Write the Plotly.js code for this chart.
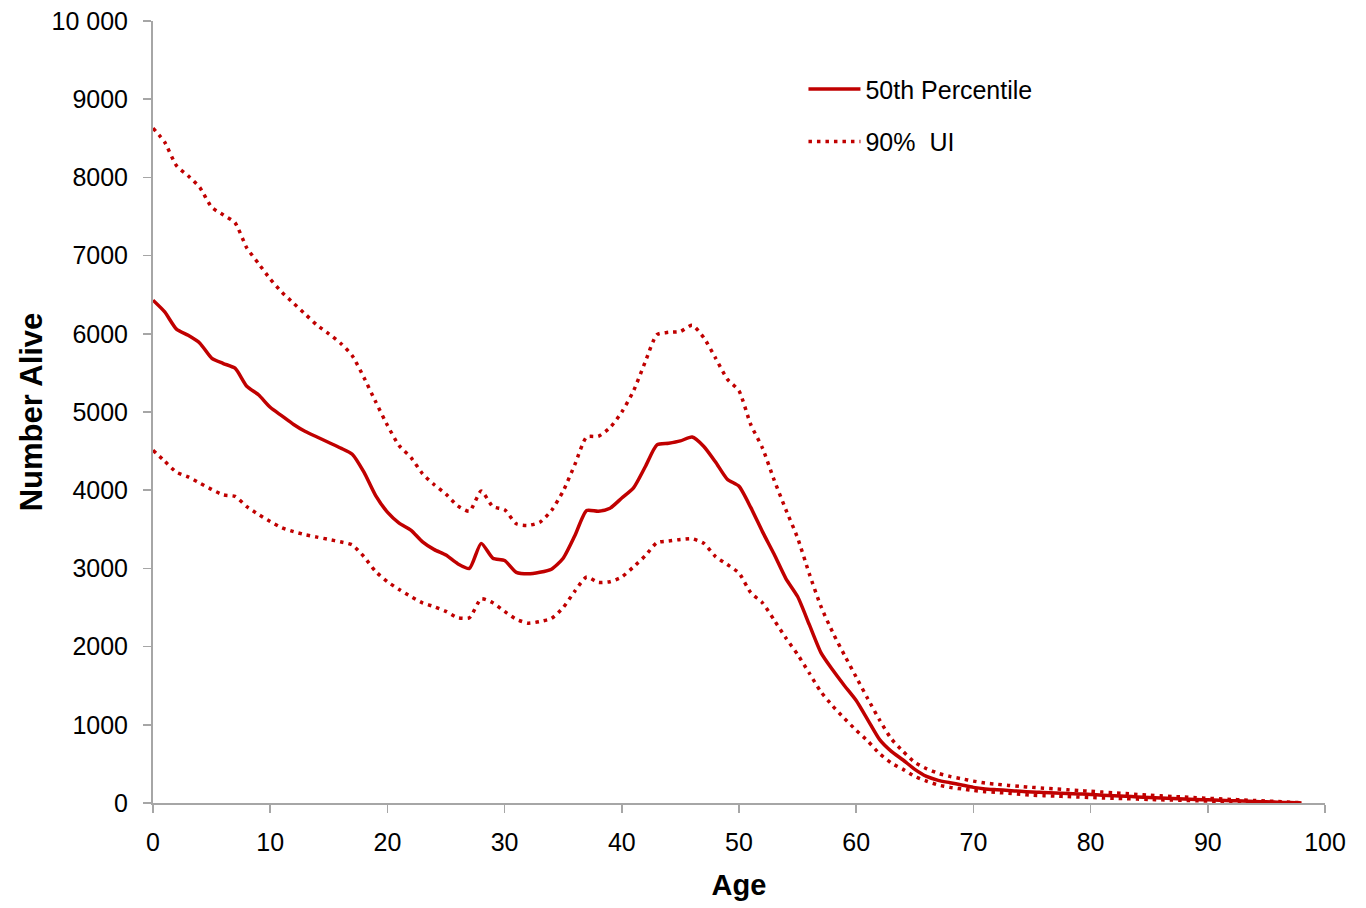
<!DOCTYPE html>
<html>
<head>
<meta charset="utf-8">
<script src="https://cdn.plot.ly/plotly-3.0.1.min.js"></script>
<style>html,body{margin:0;padding:0;background:#fff;}#chart{width:1366px;height:908px;}</style>
</head>
<body>
<div id="chart"></div>
<script>
const ages = Array.from({length: 99}, (_, i) => i);
const median = [6430,6280,6060,5980,5880,5690,5620,5560,5330,5220,
5060,4950,4840,4750,4680,4610,4540,4460,4230,3930,
3720,3580,3490,3340,3240,3170,3060,3000,3320,3130,
3100,2950,2930,2950,2990,3130,3420,3740,3730,3770,
3900,4030,4300,4580,4600,4630,4680,4560,4360,4140,
4050,3780,3470,3180,2870,2640,2280,1920,1700,1500,
1310,1060,810,660,550,430,340,290,260,230,
200,180,170,160,150,140,135,128,120,115,
110,100,92,85,78,70,64,58,52,46,
40,35,30,25,20,15,10,5,1];
const upper = [8630,8450,8150,8020,7870,7620,7520,7420,7100,6900,
6700,6530,6390,6250,6110,6000,5880,5720,5440,5130,
4830,4570,4420,4210,4070,3950,3800,3730,3990,3790,
3750,3570,3550,3590,3740,3990,4330,4680,4690,4800,
5000,5270,5640,5990,6020,6030,6110,5950,5690,5420,
5270,4840,4540,4130,3750,3390,2930,2510,2180,1890,
1610,1330,1060,820,660,520,440,380,340,310,
280,255,240,225,212,200,190,180,170,160,
150,140,130,120,110,100,92,84,76,68,
60,53,46,39,32,25,18,10,5];
const lower = [4510,4370,4230,4170,4090,4010,3940,3920,3790,3690,
3600,3520,3470,3430,3400,3370,3340,3300,3150,2960,
2830,2730,2640,2560,2510,2450,2370,2370,2610,2560,
2450,2350,2300,2320,2360,2500,2710,2890,2820,2830,
2890,3020,3160,3330,3350,3370,3380,3320,3150,3050,
2940,2690,2560,2340,2110,1900,1660,1420,1240,1080,
930,790,630,510,430,340,280,230,200,180,
160,145,135,125,112,100,94,88,82,76,
70,65,60,55,50,45,41,37,33,29,
25,22,18,15,12,8,5,2,0];
const yTickVals = [0,1000,2000,3000,4000,5000,6000,7000,8000,9000,10000];
const yTickText = ['0','1000','2000','3000','4000','5000','6000','7000','8000','9000','10 000'];
const xTickVals = [0,10,20,30,40,50,60,70,80,90,100];

const red = '#c00000';
const traces = [
  {x: ages, y: median, type: 'scatter', mode: 'lines', name: '50th Percentile',
   legendgroup: 'a', line: {color: red, width: 3.5, shape: 'spline', smoothing: 0.6}},
  {x: ages, y: upper, type: 'scatter', mode: 'lines', name: '90%  UI',
   legendgroup: 'b', line: {color: red, width: 3.5, dash: '3.5px,5px', shape: 'spline', smoothing: 0.6}},
  {x: ages, y: lower, type: 'scatter', mode: 'lines', name: '90%  UI', showlegend: false,
   legendgroup: 'b', line: {color: red, width: 3.5, dash: '3.5px,5px', shape: 'spline', smoothing: 0.6}}
];
const fam = 'Liberation Sans, Arial, sans-serif';
const layout = {
  width: 1366, height: 908,
  margin: {l: 153, r: 41, t: 21, b: 105},
  paper_bgcolor: '#fff', plot_bgcolor: '#fff',
  showlegend: true,
  legend: {x: 0.555, y: 0.942, xanchor: 'left', yanchor: 'top', bgcolor: 'rgba(0,0,0,0)',
           font: {family: fam, size: 25, color: '#000'},
           tracegroupgap: 17, traceorder: 'grouped', itemwidth: 52},
  xaxis: {range: [0, 100], tickvals: xTickVals, ticks: 'outside', ticklen: 8, tickcolor: '#a6a6a6', tickwidth: 1.5,
          showline: true, linecolor: '#a6a6a6', linewidth: 2, showgrid: false, zeroline: false,
          ticklabelstandoff: 8,
          tickfont: {family: fam, size: 25, color: '#000'},
          title: {text: '<b>Age</b>', font: {family: fam, size: 29, color: '#000'}, standoff: 20}},
  yaxis: {range: [0, 10000], tickvals: yTickVals, ticktext: yTickText, ticks: 'outside', ticklen: 8, tickcolor: '#a6a6a6', tickwidth: 1.5,
          showline: true, linecolor: '#a6a6a6', linewidth: 2, showgrid: false, zeroline: false,
          ticklabelstandoff: 10,
          tickfont: {family: fam, size: 25, color: '#000'},
          title: {text: '<b>Number Alive</b>', font: {family: fam, size: 31, color: '#000'}, standoff: 0}}
};
Plotly.newPlot('chart', traces, layout, {displayModeBar: false, staticPlot: true});
</script>
</body>
</html>
